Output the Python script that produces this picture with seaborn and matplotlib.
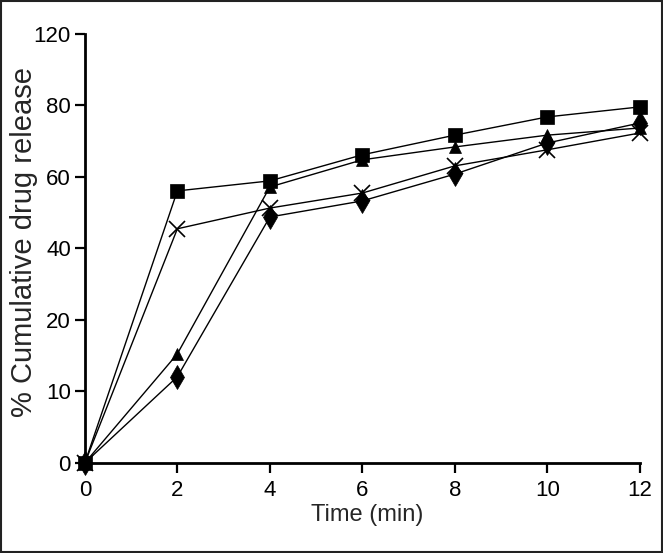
import matplotlib
matplotlib.use("Agg")
import matplotlib.pyplot as plt
import seaborn as sns
import pandas as pd
from matplotlib.patches import Rectangle

time = [0, 2, 4, 6, 8, 10, 12]
square = [0, 76.1, 78.9, 86.2, 91.7, 96.8, 99.6]
triangle = [0, 30.5, 77.2, 84.8, 88.4, 91.7, 93.7]
diamond = [0, 24.1, 68.8, 73.3, 80.8, 89.5, 95.1]
cross = [0, 65.5, 71.3, 75.5, 83.1, 87.6, 92.3]
y_ticks = [0, 20, 40, 60, 80, 100, 120]
y_tick_labels = ["0", "10", "20", "40", "60", "80", "120"]
x_ticks = [0, 2, 4, 6, 8, 10, 12]

series = {"square": square, "triangle": triangle, "diamond": diamond, "cross": cross}
rows = []
for name, vals in series.items():
    for t, v in zip(time, vals):
        rows.append({"Time": t, "Release": v, "Series": name})
df = pd.DataFrame(rows)

sns.set_theme(style="ticks")
plt.rcParams["font.family"] = ["Liberation Sans", "DejaVu Sans"]

fig = plt.figure(figsize=(6.63, 5.53), dpi=100)
ax = fig.add_axes([0.128, 0.163, 0.837, 0.7755])

markers = {"square": "s", "triangle": "^", "diamond": "d", "cross": "x"}
sizes = {"square": 10, "triangle": 9, "diamond": 12, "cross": 11}
for name in series:
    sub = df[df["Series"] == name]
    sns.lineplot(data=sub, x="Time", y="Release", ax=ax, color="black",
                 marker=markers[name], markersize=sizes[name], linewidth=1.0,
                 markeredgewidth=1.2 if name == "cross" else 0.5,
                 markeredgecolor="black", clip_on=False, legend=False, zorder=3)

ax.set_xlim(0, 12)
ax.set_ylim(0, 120)
ax.set_xticks(x_ticks)
ax.set_yticks(y_ticks)
ax.set_yticklabels(y_tick_labels)
ax.set_xlabel("Time (min)", fontsize=17)
ax.set_ylabel("% Cumulative drug release", fontsize=21)
ax.xaxis.set_label_coords(0.508, -0.095)
ax.yaxis.set_label_coords(-0.110, 0.515)
ax.yaxis.label.set_verticalalignment("center")
ax.tick_params(axis="both", labelsize=16, length=7, width=1.6, color="black",
               direction="out", labelcolor="black")
ax.tick_params(axis="x", pad=5)
ax.tick_params(axis="y", pad=3)
sns.despine(ax=ax)
for s in ("left", "bottom"):
    ax.spines[s].set_linewidth(2)
    ax.spines[s].set_color("black")

fig.patches.append(Rectangle((0.002, 0.002), 0.996, 0.996, transform=fig.transFigure,
                             fill=False, edgecolor="#222222", linewidth=1.5))

fig.savefig("out.png", dpi=100)
